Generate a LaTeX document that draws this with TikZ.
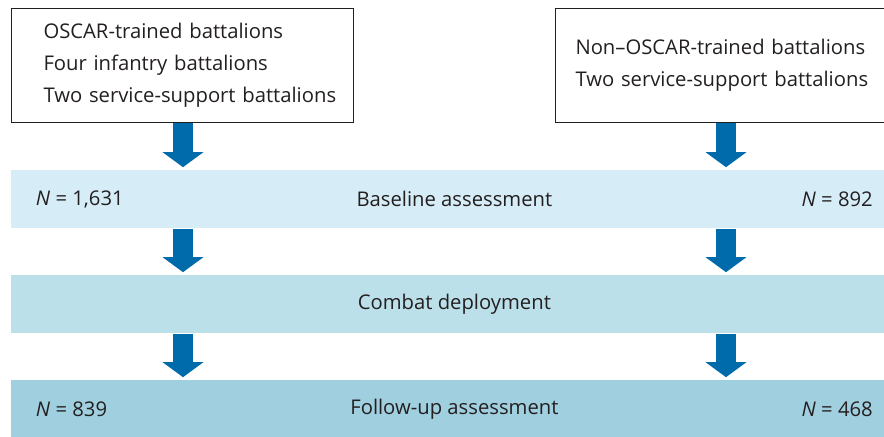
\documentclass[tikz,border=0pt]{standalone}
\usepackage{fontspec}
\setmainfont{Open Sans}
\usepackage{xcolor}
\usetikzlibrary{positioning,calc,arrows.meta}

\definecolor{arrowblue}{HTML}{006BAA}
\definecolor{bandone}{HTML}{D6EDF8}
\definecolor{bandtwo}{HTML}{BCE0EA}
\definecolor{bandthree}{HTML}{A0CFDF}
\definecolor{inkgray}{HTML}{231F20}

\begin{document}
\begin{tikzpicture}[x=0.025cm, y=-0.025cm,
    every node/.style={text=inkgray, font=\fontsize{14.4}{22.8}\selectfont},
    groupbox/.style={draw=inkgray, line width=0.7pt, anchor=north west, align=left,
        minimum height=2.85cm, inner ysep=0pt},
    band/.style={anchor=north west, minimum width=22.15cm, minimum height=1.45cm, inner sep=0pt},
    bigarrow/.style={draw=arrowblue, line width=0.5cm, shorten >=0.07cm,
        -{Triangle[width=1cm,length=0.375cm]}}]
    \useasboundingbox (0,0) rectangle (884,436);

    \node [groupbox, text width=6.95cm, inner xsep=0.8cm] (oscar) at (11,8)
        {\mbox{OSCAR-trained battalions}\\\mbox{Four infantry battalions}\\\mbox{Two service-support battalions}};
    \node [groupbox, text width=8cm, inner xsep=0.5cm] (nonoscar) at (555,8)
        {\mbox{Non--OSCAR-trained battalions}\\\mbox{Two service-support battalions}};

    \node [band, fill=bandone] (base) at (11,170) {Baseline assessment};
    \node [band, fill=bandtwo] (combat) at (11,275) {Combat deployment};
    \node [band, fill=bandthree] (follow) at (11,380) {Follow-up assessment};

    \node [right=0.5cm of base.west, anchor=west] (basel) {\textit{N} = 1,631};
    \node [left=0.5cm of base.east, anchor=east] (baser) {\textit{N} = 892};
    \node [right=0.5cm of follow.west, anchor=west] (followl) {\textit{N} = 839};
    \node [left=0.5cm of follow.east, anchor=east] (followr) {\textit{N} = 468};

    % arrow columns
    \coordinate (lcol) at (183,0);
    \coordinate (rcol) at (726,0);

    \draw [bigarrow] (lcol |- oscar.south) -- (lcol |- base.north);
    \draw [bigarrow] (rcol |- nonoscar.south) -- (rcol |- base.north);
    \foreach \a/\b in {base/combat, combat/follow}{
        \draw [bigarrow] (lcol |- \a.south) -- (lcol |- \b.north);
        \draw [bigarrow] (rcol |- \a.south) -- (rcol |- \b.north);
    }
\end{tikzpicture}
\end{document}
